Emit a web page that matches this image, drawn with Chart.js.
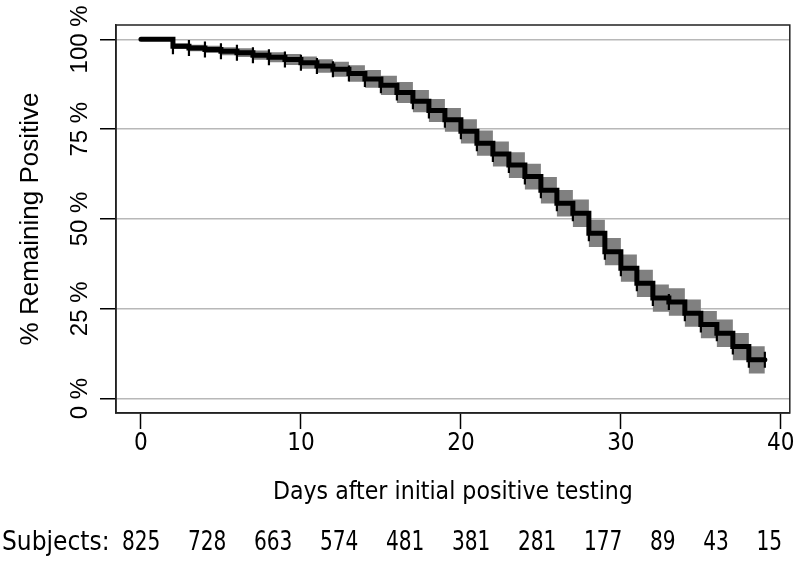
<!DOCTYPE html>
<html lang="en">
<head>
<meta charset="UTF-8">
<title>Remaining positive</title>
<script src="https://cdn.jsdelivr.net/npm/chart.js"></script>
<style>
  html, body { margin: 0; padding: 0; background: #fff; }
  #kmChart { display: block; }
</style>
</head>
<body>
<canvas id="kmChart" width="800" height="562"></canvas>
<script>
// day after first positive test, and % still positive after that day's step
const days      = [0, 1, 2, 3, 4, 5, 6, 7, 8, 9, 10, 11, 12, 13, 14, 15, 16, 17, 18, 19,
                   20, 21, 22, 23, 24, 25, 26, 27, 28, 29, 30, 31, 32, 33, 34, 35, 36, 37, 38, 39];
const remaining = [100, 100, 98.1, 97.6, 97.2, 96.7, 96.3, 95.6, 95.0, 94.4, 93.5, 92.6, 91.7, 90.5, 89.0, 87.2, 85.2, 82.8, 80.2, 77.6,
                   74.4, 71.1, 68.1, 65.0, 61.8, 58.0, 54.4, 51.6, 46.0, 40.9, 36.3, 32.1, 28.0, 26.9, 23.8, 20.6, 18.2, 14.5, 10.8, 10.8];
// confidence band
const upperCI   = [100, 100, 98.9, 98.5, 98.2, 97.8, 97.5, 96.9, 96.4, 95.9, 95.2, 94.5, 93.8, 92.8, 91.5, 89.9, 88.1, 85.9, 83.4, 80.9,
                   77.8, 74.6, 71.6, 68.6, 65.4, 61.7, 58.1, 55.4, 49.8, 44.7, 40.1, 35.9, 31.8, 30.7, 27.6, 24.4, 22.0, 18.3, 14.6, 14.6];
const lowerCI   = [100, 100, 97.3, 96.7, 96.2, 95.6, 95.1, 94.3, 93.6, 92.9, 91.8, 90.7, 89.6, 88.2, 86.5, 84.5, 82.3, 79.7, 77.0, 74.3,
                   71.0, 67.6, 64.6, 61.4, 58.2, 54.3, 50.7, 47.8, 42.2, 37.1, 32.5, 28.3, 24.2, 23.1, 20.0, 16.8, 14.4, 10.7, 7.0, 7.0];
// censoring marks
const censorDays = [2, 3, 4, 5, 6, 7, 8, 9, 10, 11, 12, 13, 14, 15, 16, 17, 18, 19, 20,
                    21, 22, 23, 24, 25, 26, 27, 28, 29, 30, 31, 32, 33, 34, 35, 36, 37, 38, 39];

const xTicks = [0, 10, 20, 30, 40];
const yTicks = [0, 25, 50, 75, 100];

// number at risk, written as one line of text under the axis
const riskCounts = [825, 728, 663, 574, 481, 381, 281, 177, 89, 43, 15];

const narrow = "'Liberation Sans Narrow', 'DejaVu Sans Condensed', 'Arial Narrow', sans-serif";
const regular = "'Liberation Sans', Arial, Helvetica, sans-serif";

function pts(ys) {
  return days.map((d, i) => ({ x: d, y: ys[i] }));
}

const censorPts = censorDays.map(d => ({ x: d, y: remaining[days.indexOf(d)] }));

// box round the plot + the subjects row under the axis
const extras = {
  id: 'extras',
  afterDraw(chart) {
    const { ctx, chartArea: a } = chart;
    ctx.save();
    ctx.strokeStyle = '#222';
    ctx.lineWidth = 1.5;
    ctx.strokeRect(a.left, a.top, a.right - a.left, a.bottom - a.top);

    const rowY = 543;
    const squeeze = 0.86;   // the numbers look condensed in the original
    ctx.fillStyle = '#000';
    ctx.font = '26px ' + narrow;
    ctx.textBaseline = 'middle';
    ctx.textAlign = 'left';
    ctx.fillText('Subjects:', 2, rowY);

    const widths = riskCounts.map(n => ctx.measureText(String(n)).width * squeeze);
    const total = widths.reduce((s, w) => s + w, 0);
    const first = 122, last = 782;
    const gap = (last - first - total) / (riskCounts.length - 1);
    let left = first;
    riskCounts.forEach((n, i) => {
      ctx.save();
      ctx.translate(left, rowY);
      ctx.scale(squeeze, 1);
      ctx.fillText(String(n), 0, 0);
      ctx.restore();
      left += widths[i] + gap;
    });
    ctx.restore();
  }
};

new Chart(document.getElementById('kmChart'), {
  type: 'line',
  data: {
    datasets: [
      {
        data: pts(upperCI),
        stepped: true,
        borderWidth: 0,
        pointRadius: 0,
        fill: false,
        order: 3
      },
      {
        data: pts(lowerCI),
        stepped: true,
        borderWidth: 0,
        pointRadius: 0,
        backgroundColor: '#808080',
        fill: '-1',
        order: 2
      },
      {
        data: pts(remaining),
        stepped: true,
        borderColor: '#000',
        borderWidth: 5,
        borderCapStyle: 'round',
        borderJoinStyle: 'miter',
        pointRadius: 0,
        fill: false,
        order: 1
      },
      {
        data: censorPts,
        showLine: false,
        pointStyle: 'line',
        pointRadius: 8,
        pointRotation: 90,
        pointBorderWidth: 2.2,
        pointBorderColor: '#000',
        order: 0
      }
    ]
  },
  options: {
    responsive: false,
    animation: false,
    events: [],
    layout: { padding: { top: 25, right: 8, left: 0, bottom: 0 } },
    plugins: {
      legend: { display: false },
      tooltip: { enabled: false }
    },
    scales: {
      x: {
        type: 'linear',
        min: -1.56,
        max: 40.56,
        afterBuildTicks: axis => { axis.ticks = xTicks.map(v => ({ value: v })); },
        afterFit: axis => { axis.height = 149; },
        grid: {
          drawOnChartArea: false,
          tickLength: 16,
          tickColor: '#000',
          tickWidth: 1.5
        },
        border: { display: true, color: '#222', width: 1.5 },
        ticks: {
          autoSkip: false,
          maxRotation: 0,
          padding: 0,
          color: '#000',
          font: { family: narrow, size: 24 }
        },
        title: {
          display: true,
          text: 'Days after initial positive testing',
          color: '#000',
          font: { family: narrow, size: 24.6 },
          padding: { top: 0, bottom: 55 }
        }
      },
      y: {
        min: -4,
        max: 104,
        afterBuildTicks: axis => { axis.ticks = yTicks.map(v => ({ value: v })); },
        afterFit: axis => { axis.width = 116; },
        grid: {
          color: '#b8b8b8',
          lineWidth: 1.5,
          tickLength: 16,
          tickColor: '#000',
          tickWidth: 1.5
        },
        border: { display: true, color: '#222', width: 1.5 },
        ticks: {
          autoSkip: false,
          minRotation: 90,
          maxRotation: 90,
          crossAlign: 'center',
          padding: -14,
          color: '#000',
          font: { family: regular, size: 24 },
          callback: v => v + ' %'
        },
        title: {
          display: true,
          text: '% Remaining Positive',
          color: '#000',
          font: { family: regular, size: 26 },
          padding: { top: 15, bottom: 0 }
        }
      }
    }
  },
  plugins: [extras]
});
</script>
</body>
</html>
